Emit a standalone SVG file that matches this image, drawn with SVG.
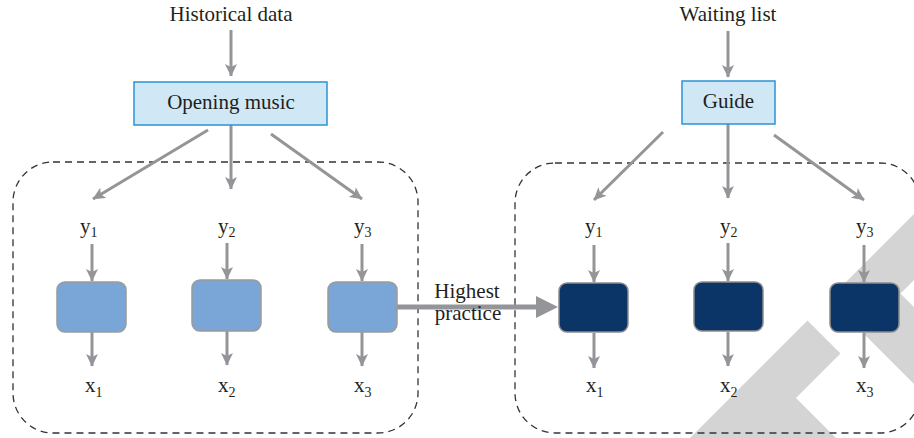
<svg xmlns="http://www.w3.org/2000/svg" width="914" height="438" viewBox="0 0 914 438">
<defs>
<marker id="ah" markerUnits="userSpaceOnUse" markerWidth="14" markerHeight="14" refX="12" refY="6.5" orient="auto">
<path d="M0,0.5 L12.5,6.5 L0,12.5 L3,6.5 Z" fill="#939598"/>
</marker>
<style>
text{font-family:"Liberation Serif","Times New Roman",serif;fill:#231f20;font-size:21px}
.c{text-anchor:middle}
.sub{font-size:14px}
.wm{fill:#d4d4d4}
.dash{fill:none;stroke:#333;stroke-width:1.3;stroke-dasharray:7 5}
.top{fill:#d0e8f6;stroke:#2d93d2;stroke-width:1.5}
.mid{fill:#79a6d7;stroke:#9a9a9a;stroke-width:1.5}
.dark{fill:#0b3566;stroke:#8c8c8c;stroke-width:1.5}
.ln{stroke:#939598;stroke-width:3;fill:none;marker-end:url(#ah)}
</style>
</defs>
<g id="watermark">
<polygon class="wm" points="690,438 807.5,320.5 840.5,353.5 796,398 836,438"/>
<polygon class="wm" points="914,214 829,299 914,384 914,307 900.5,293.5 914,280"/>
</g>
<g id="group-left"><rect class="dash" x="13" y="162" width="405" height="271" rx="40"/></g>
<g id="group-right"><rect class="dash" x="515" y="163" width="405" height="270" rx="40"/></g>
<g id="connectors">
<line class="ln" x1="231" y1="30" x2="231" y2="76"/>
<line class="ln" x1="208" y1="130" x2="93" y2="199"/>
<line class="ln" x1="231" y1="125" x2="231" y2="189"/>
<line class="ln" x1="271" y1="134" x2="362" y2="199"/>
<line class="ln" x1="92" y1="244" x2="92" y2="281"/>
<line class="ln" x1="227" y1="243" x2="227" y2="279"/>
<line class="ln" x1="362" y1="244" x2="362" y2="281"/>
<line class="ln" x1="92" y1="332" x2="92" y2="366"/>
<line class="ln" x1="227" y1="331" x2="227" y2="365"/>
<line class="ln" x1="362" y1="332" x2="362" y2="366"/>
<line class="ln" x1="728" y1="31" x2="728" y2="77"/>
<line class="ln" x1="663" y1="132" x2="594" y2="200"/>
<line class="ln" x1="728" y1="124" x2="728" y2="198"/>
<line class="ln" x1="774" y1="135" x2="864" y2="200"/>
<line class="ln" x1="594" y1="245" x2="594" y2="282"/>
<line class="ln" x1="728" y1="243" x2="728" y2="281"/>
<line class="ln" x1="864" y1="245" x2="864" y2="282"/>
<line class="ln" x1="594" y1="333" x2="594" y2="368"/>
<line class="ln" x1="728" y1="332" x2="728" y2="366"/>
<line class="ln" x1="864" y1="333" x2="864" y2="368"/>
<line x1="397" y1="307" x2="540" y2="307" stroke="#939598" stroke-width="5"/>
<polygon points="536,296 558,307 536,318" fill="#939598"/>
<text class="c" x="467" y="298" font-size="19">Highest</text>
<text class="c" x="468" y="320" font-size="19">practice</text>
</g>
<g id="historical-data"><text class="c" x="231" y="21">Historical data</text></g>
<g id="opening-music"><rect class="top" x="134" y="82" width="193" height="43"/><text class="c" x="231" y="109">Opening music</text></g>
<g id="waiting-list"><text class="c" x="728" y="21">Waiting list</text></g>
<g id="guide"><rect class="top" x="682" y="81" width="93" height="43"/><text class="c" x="728.5" y="108">Guide</text></g>
<g id="y1-left"><text x="80" y="233">y<tspan class="sub" dy="4">1</tspan></text></g>
<g id="y2-left"><text x="218" y="233">y<tspan class="sub" dy="4">2</tspan></text></g>
<g id="y3-left"><text x="354" y="233">y<tspan class="sub" dy="4">3</tspan></text></g>
<g id="box1-left"><rect class="mid" x="57" y="282" width="69" height="50" rx="8"/></g>
<g id="box2-left"><rect class="mid" x="192" y="280" width="69" height="51" rx="8"/></g>
<g id="box3-left"><rect class="mid" x="328" y="282" width="69" height="50" rx="8"/></g>
<g id="x1-left"><text x="85" y="392">x<tspan class="sub" dy="5">1</tspan></text></g>
<g id="x2-left"><text x="218" y="392">x<tspan class="sub" dy="5">2</tspan></text></g>
<g id="x3-left"><text x="354" y="392">x<tspan class="sub" dy="5">3</tspan></text></g>
<g id="y1-right"><text x="585" y="233">y<tspan class="sub" dy="4">1</tspan></text></g>
<g id="y2-right"><text x="720" y="233">y<tspan class="sub" dy="4">2</tspan></text></g>
<g id="y3-right"><text x="856" y="233">y<tspan class="sub" dy="4">3</tspan></text></g>
<g id="box1-right"><rect class="dark" x="559" y="283" width="69" height="49" rx="8"/></g>
<g id="box2-right"><rect class="dark" x="694" y="282" width="69" height="49" rx="8"/></g>
<g id="box3-right"><rect class="dark" x="830" y="283" width="69" height="49" rx="8"/></g>
<g id="x1-right"><text x="586" y="392">x<tspan class="sub" dy="5">1</tspan></text></g>
<g id="x2-right"><text x="720" y="392">x<tspan class="sub" dy="5">2</tspan></text></g>
<g id="x3-right"><text x="856" y="392">x<tspan class="sub" dy="5">3</tspan></text></g>
</svg>
